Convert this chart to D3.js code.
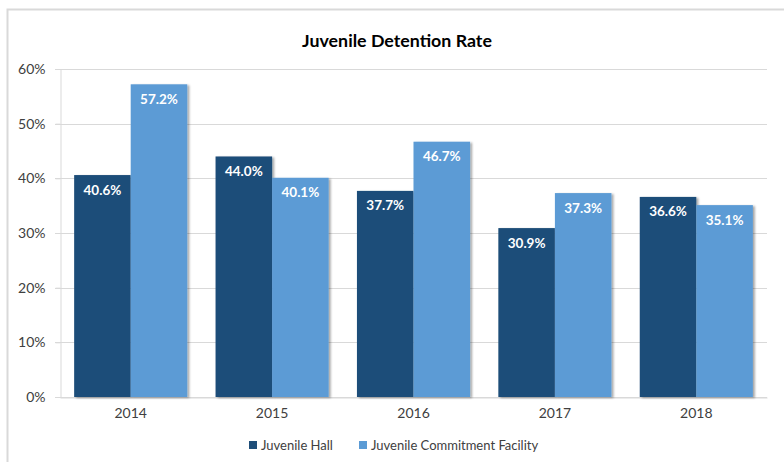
<!DOCTYPE html>
<html>
<head>
<meta charset="utf-8">
<script src="https://cdn.jsdelivr.net/npm/d3@7"></script>
<style>
  html, body { margin: 0; padding: 0; background: #fff; }
  svg { display: block; font-family: Lato, "Open Sans", sans-serif; }
</style>
</head>
<body>
<svg id="chart" width="784" height="462"></svg>
<script>
// Detention rate by year for two facility types
const years = ["2014", "2015", "2016", "2017", "2018"];
const seriesNames = ["Juvenile Hall", "Juvenile Commitment Facility"];
const juvenileHall = [40.6, 44.0, 37.7, 30.9, 36.6];
const commitmentFacility = [57.2, 40.1, 46.7, 37.3, 35.1];
const yTicks = [0, 10, 20, 30, 40, 50, 60];
const colors = ["#1f4e79", "#5b9bd5"];

const seriesValues = [juvenileHall, commitmentFacility];
const rows = years.map((y, i) => ({
  year: y,
  values: seriesNames.map((name, s) => ({ key: name, s, value: seriesValues[s][i] }))
}));

const svg = d3.select("#chart");
const W = 784, H = 462;
const plot = { left: 60, right: 767, top: 69, bottom: 397 };

// outer chart frame (top and left edges visible)
svg.append("rect")
  .attr("x", 7.5).attr("y", 9.5)
  .attr("width", W + 20).attr("height", H + 20)
  .attr("fill", "#fff").attr("stroke", "#d9d9d9").attr("stroke-width", 2);

const defs = svg.append("defs");
const shadow = defs.append("filter").attr("id", "barShadow")
  .attr("x", "-10%").attr("y", "-10%").attr("width", "130%").attr("height", "130%");
shadow.append("feDropShadow")
  .attr("dx", 2).attr("dy", 1).attr("stdDeviation", 1.3)
  .attr("flood-color", "#000").attr("flood-opacity", 0.35);

const x0 = d3.scaleBand().domain(years).range([plot.left, plot.right]).paddingInner(0.2).paddingOuter(0.1);
const x1 = d3.scaleBand().domain(seriesNames).range([0, x0.bandwidth()]);
const y = d3.scaleLinear().domain([0, 60]).range([plot.bottom, plot.top]);

// gridlines
svg.append("g").selectAll("line").data(yTicks).join("line")
  .attr("x1", plot.left - 5).attr("x2", plot.right)
  .attr("y1", d => Math.round(y(d)) + 0.5).attr("y2", d => Math.round(y(d)) + 0.5)
  .attr("stroke", "#d9d9d9").attr("stroke-width", 1);

// y axis
const yAxis = svg.append("g")
  .attr("transform", `translate(${plot.left + 0.5},0)`)
  .call(d3.axisLeft(y).tickValues(yTicks).tickFormat(d => d + "%").tickSize(5).tickPadding(10));
yAxis.select(".domain").attr("stroke", "#d9d9d9");
yAxis.selectAll(".tick line").attr("stroke", "#d9d9d9");
yAxis.selectAll(".tick text").attr("font-size", 14).attr("fill", "#404040")
  .attr("font-family", "Lato, sans-serif");

// x axis labels
const xAxis = svg.append("g")
  .attr("transform", `translate(0,${plot.bottom + 0.5})`)
  .call(d3.axisBottom(x0).tickSize(0).tickPadding(11));
xAxis.select(".domain").attr("stroke", "#d9d9d9");
xAxis.selectAll(".tick text").attr("font-size", 14).attr("fill", "#404040")
  .attr("font-family", "Lato, sans-serif");

// bars
const groups = svg.append("g").selectAll("g").data(rows).join("g")
  .attr("transform", d => `translate(${x0(d.year)},0)`);

groups.selectAll("rect").data(d => d.values).join("rect")
  .attr("x", d => x1(d.key))
  .attr("y", d => y(d.value))
  .attr("width", x1.bandwidth())
  .attr("height", d => y(0) - y(d.value))
  .attr("fill", d => colors[d.s])
  .attr("filter", "url(#barShadow)");

groups.selectAll("text").data(d => d.values).join("text")
  .attr("x", d => x1(d.key) + x1.bandwidth() / 2)
  .attr("y", d => y(d.value) + 19.5)
  .attr("text-anchor", "middle")
  .attr("font-size", 13.5).attr("font-weight", 700).attr("fill", "#fff")
  .text(d => d.value.toFixed(1) + "%");

// title
svg.append("text")
  .attr("x", 397).attr("y", 47)
  .attr("text-anchor", "middle")
  .attr("font-size", 17.8).attr("font-weight", 700).attr("fill", "#000")
  .text("Juvenile Detention Rate");

// legend
const legendPos = [249, 359];
const legend = svg.append("g").selectAll("g").data(seriesNames).join("g")
  .attr("transform", (d, i) => `translate(${legendPos[i]},441)`);
legend.append("rect").attr("width", 8).attr("height", 8)
  .attr("fill", (d, i) => colors[i]);
legend.append("text").attr("x", 12).attr("y", 8.5)
  .attr("font-size", 13).attr("fill", "#404040")
  .text(d => d);
</script>
</body>
</html>
